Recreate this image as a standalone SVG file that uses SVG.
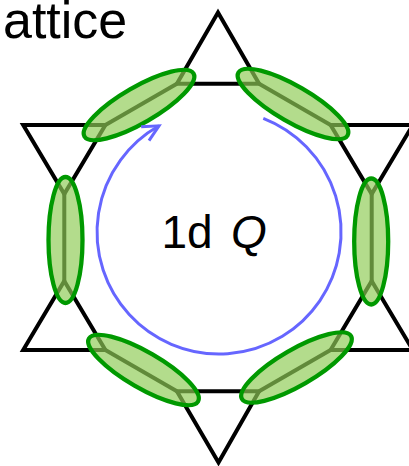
<svg xmlns="http://www.w3.org/2000/svg" width="409" height="466" viewBox="0 0 409 466">
  <style>
    .lat { fill: none; stroke: #000; stroke-width: 4; stroke-linejoin: miter; stroke-miterlimit: 10; }
    .dimer { fill: #8fcc55; fill-opacity: 0.68; stroke: #009900; stroke-width: 4.3; }
    .flow { fill: none; stroke: #6666ff; stroke-width: 3; }
    .lbl { font-family: "Liberation Sans", Arial, sans-serif; fill: #000; }
  </style>
  <defs>
    <marker id="chev" markerUnits="userSpaceOnUse" markerWidth="40" markerHeight="40" viewBox="-20 -20 40 40" refX="0" refY="0" orient="auto">
      <path d="M-16,-8 L0,0 L-16,8" fill="none" stroke="#6666ff" stroke-width="3"/>
    </marker>
  </defs>
  <rect width="409" height="466" fill="#fff"/>

  <g id="lattice">
    <polygon id="tri-top" class="lat" points="218,12.5 259.1,83.75 176.9,83.75"/>
    <polygon id="tri-ul" class="lat" points="23.2,125 105.4,125 64.3,194"/>
    <polygon id="tri-ll" class="lat" points="64.3,281 105.4,350 23.2,350"/>
    <polygon id="tri-bot" class="lat" points="176.9,391.25 259.1,391.25 218.5,462.5"/>
    <polygon id="tri-lr" class="lat" points="371.7,281 412.8,350 330.6,350"/>
    <polygon id="tri-ur" class="lat" points="330.6,125 412.8,125 371.7,194"/>
  </g>
  <g id="connectors">
    <line class="lat" x1="176.9" y1="83.75" x2="105.4" y2="125"/>
    <line class="lat" x1="64.3" y1="194" x2="64.3" y2="281"/>
    <line class="lat" x1="105.4" y1="350" x2="176.9" y2="391.25"/>
    <line class="lat" x1="259.1" y1="391.25" x2="330.6" y2="350"/>
    <line class="lat" x1="371.7" y1="281" x2="371.7" y2="194"/>
    <line class="lat" x1="330.6" y1="125" x2="259.1" y2="83.75"/>
  </g>

  <g id="dimers">
    <ellipse id="dimer-tl" class="dimer" cx="0" cy="0" rx="63" ry="18" transform="translate(139,105) rotate(-30)"/>
    <ellipse id="dimer-tr" class="dimer" cx="0" cy="0" rx="63" ry="18" transform="translate(293,104) rotate(30)"/>
    <ellipse id="dimer-l" class="dimer" cx="65.5" cy="240" rx="17" ry="63"/>
    <ellipse id="dimer-r" class="dimer" cx="371.2" cy="241.5" rx="17" ry="63"/>
    <ellipse id="dimer-bl" class="dimer" cx="0" cy="0" rx="63" ry="18" transform="translate(143.5,370) rotate(30)"/>
    <ellipse id="dimer-br" class="dimer" cx="0" cy="0" rx="63" ry="18" transform="translate(296.5,367.5) rotate(-30)"/>
  </g>

  <g id="flow-arrow">
    <path class="flow" d="M263.3,118.3 A122,122 0 1 1 159,125.8" marker-end="url(#chev)"/>
  </g>

  <g id="labels">
    <text class="lbl" x="3" y="38" font-size="52">attice</text>
    <text class="lbl" x="161.5" y="247.7" font-size="46">1d<tspan x="231" font-style="italic">Q</tspan></text>
  </g>
</svg>
